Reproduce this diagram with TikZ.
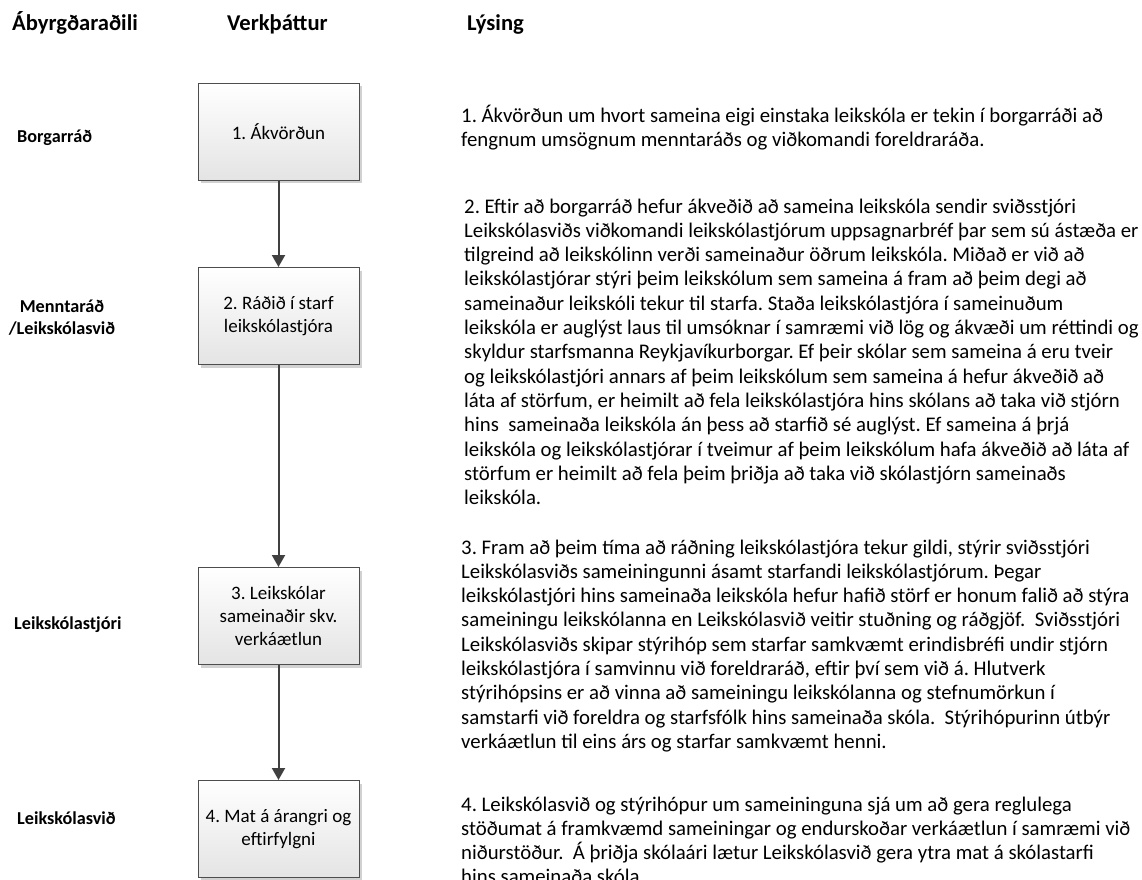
\documentclass[tikz,border=0pt]{standalone}
\usepackage{fontspec}
\setmainfont{Carlito}
\usetikzlibrary{arrows.meta,shadows}
\definecolor{boxline}{HTML}{4D4D4D}
\definecolor{boxbottom}{HTML}{E4E4E4}
\definecolor{arrowc}{HTML}{404040}
\frenchspacing
\newcommand{\desctext}[1]{\parbox[t]{700pt}{\raggedright\fontsize{20.8}{24.3}\selectfont #1}}
\begin{document}
\begin{tikzpicture}[x=1pt,y=-1pt,
  stepbox/.style={draw=boxline, line width=1pt, top color=white, bottom color=boxbottom,
    minimum width=161pt, minimum height=97pt, inner sep=0pt, align=center,
    font=\fontsize{19}{23}\selectfont,
    drop shadow={shadow xshift=3pt, shadow yshift=-3pt, fill=black!18, opacity=1}},
  arr/.style={draw=arrowc, line width=2pt, -{Triangle[width=13pt,length=12pt]}},
  hdr/.style={font=\fontsize{22.6}{26}\selectfont\bfseries, inner sep=0pt, anchor=base west},
  lbl/.style={font=\fontsize{18.2}{22}\selectfont\bfseries, inner sep=0pt},
  desc/.style={inner sep=0pt, anchor=base west}]
\useasboundingbox (0,0) rectangle (1142,879);
\fill[white] (0,0) rectangle (1142,879);
% headers
\node[hdr] (h1) at (12,30) {Ábyrgðaraðili};
\node[hdr] (h2) at (227,30) {Verkþáttur};
\node[hdr] (h3) at (467,30) {Lýsing};
% left labels
\node[lbl, anchor=base west] (l1) at (17,142) {Borgarráð};
\node[lbl, anchor=base] (l2a) at (62,312) {Menntaráð};
\node[lbl, anchor=base] (l2b) at (62,334) {/Leikskólasvið};
\node[lbl, anchor=base west] (l3) at (14,629) {Leikskólastjóri};
\node[lbl, anchor=base west] (l4) at (17,824) {Leikskólasvið};
% boxes
\node[stepbox] (b1) at (278.5,131.5) {1. Ákvörðun};
\node[stepbox] (b2) at (278.5,316) {2. Ráðið í starf\\leikskólastjóra};
\node[stepbox] (b3) at (278.5,616) {3. Leikskólar\\sameinaðir skv.\\verkáætlun};
\node[stepbox] (b4) at (278.5,829) {4. Mat á árangri og\\eftirfylgni};
% arrows
\draw[arr] (b1) -- (b2);
\draw[arr] (b2) -- (b3);
\draw[arr] (b3) -- (b4);
% descriptions
\node[desc] (d1) at (461,122) {\desctext{1. Ákvörðun um hvort sameina eigi einstaka leikskóla er tekin í borgarráði að\\
fengnum umsögnum menntaráðs og viðkomandi foreldraráða.}};
\node[desc] (d2) at (464,213) {\desctext{2. Eftir að borgarráð hefur ákveðið að sameina leikskóla sendir sviðsstjóri\\
Leikskólasviðs viðkomandi leikskólastjórum uppsagnarbréf þar sem sú ástæða er\\
tilgreind að leikskólinn verði sameinaður öðrum leikskóla. Miðað er við að\\
leikskólastjórar stýri þeim leikskólum sem sameina á fram að þeim degi að\\
sameinaður leikskóli tekur til starfa. Staða leikskólastjóra í sameinuðum\\
leikskóla er auglýst laus til umsóknar í samræmi við lög og ákvæði um réttindi og\\
skyldur starfsmanna Reykjavíkurborgar. Ef þeir skólar sem sameina á eru tveir\\
og leikskólastjóri annars af þeim leikskólum sem sameina á hefur ákveðið að\\
láta af störfum, er heimilt að fela leikskólastjóra hins skólans að taka við stjórn\\
hins\ \ sameinaða leikskóla án þess að starfið sé auglýst. Ef sameina á þrjá\\
leikskóla og leikskólastjórar í tveimur af þeim leikskólum hafa ákveðið að láta af\\
störfum er heimilt að fela þeim þriðja að taka við skólastjórn sameinaðs\\
leikskóla.}};
\node[desc] (d3) at (461,554) {\desctext{3. Fram að þeim tíma að ráðning leikskólastjóra tekur gildi, stýrir sviðsstjóri\\
Leikskólasviðs sameiningunni ásamt starfandi leikskólastjórum. Þegar\\
leikskólastjóri hins sameinaða leikskóla hefur hafið störf er honum falið að stýra\\
sameiningu leikskólanna en Leikskólasvið veitir stuðning og ráðgjöf.\ \ Sviðsstjóri\\
Leikskólasviðs skipar stýrihóp sem starfar samkvæmt erindisbréfi undir stjórn\\
leikskólastjóra í samvinnu við foreldraráð, eftir því sem við á. Hlutverk\\
stýrihópsins er að vinna að sameiningu leikskólanna og stefnumörkun í\\
samstarfi við foreldra og starfsfólk hins sameinaða skóla.\ \ Stýrihópurinn útbýr\\
verkáætlun til eins árs og starfar samkvæmt henni.}};
\node[desc] (d4) at (461,811) {\desctext{4. Leikskólasvið og stýrihópur um sameininguna sjá um að gera reglulega\\
stöðumat á framkvæmd sameiningar og endurskoðar verkáætlun í samræmi við\\
niðurstöður.\ \ Á þriðja skólaári lætur Leikskólasvið gera ytra mat á skólastarfi\\
hins sameinaða skóla.}};
\end{tikzpicture}
\end{document}
